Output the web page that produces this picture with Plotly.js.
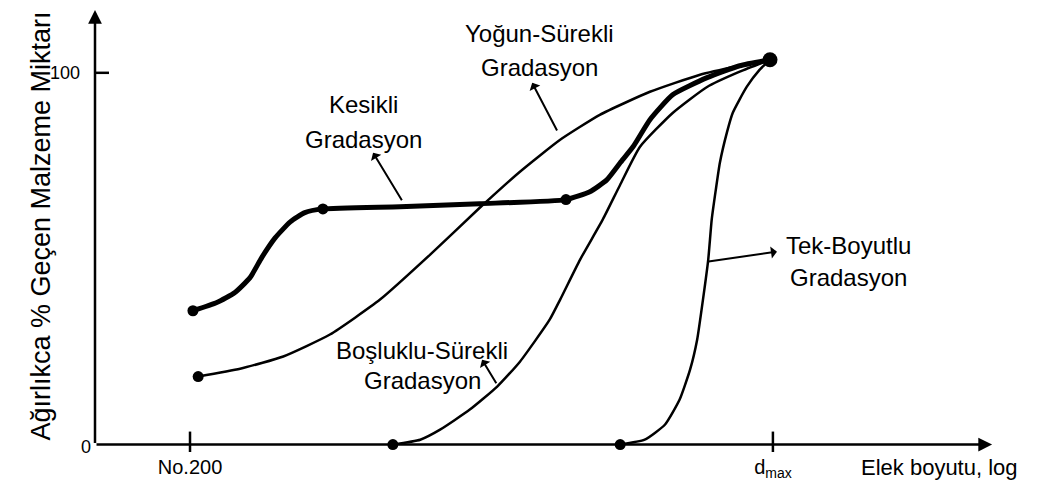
<!DOCTYPE html>
<html>
<head>
<meta charset="utf-8">
<script src="https://cdn.plot.ly/plotly-3.0.1.min.js"></script>
<style>html,body{margin:0;padding:0;background:#fff;}#chart{width:1046px;height:504px;}</style>
</head>
<body>
<div id="chart"></div>
<script>
// x: relative log sieve size (No.200 = 0, d_max = 100); y: % passing by weight
const xTickVals = [0, 100];
const xTickText = ['No.200', 'd<sub>max</sub>'];
const yTickVals = [100];
const yTickText = ['100'];

const xKesikli = [0.5, 4.6, 7.7, 10.3, 12.3, 14.6, 17.2, 19.7, 22.8, 36.0, 49.7, 64.5, 68.6, 71.5, 73.8, 76.0, 78.9, 82.8, 88.7, 94.3, 99.5];
const yKesikli = [36.0, 38.2, 40.9, 44.9, 50.3, 55.6, 59.9, 62.4, 63.4, 64.0, 64.8, 65.9, 68.0, 71.2, 75.8, 80.1, 87.4, 94.1, 98.7, 101.9, 103.5];
const dotsKesikli = [0, 8, 11];

const xYogun = [1.4, 8.6, 16.0, 24.0, 32.6, 41.2, 49.7, 56.6, 63.5, 70.3, 78.9, 87.5, 94.3, 99.5];
const yYogun = [18.3, 20.4, 23.7, 29.6, 39.0, 51.1, 63.7, 73.4, 82.0, 88.7, 94.9, 99.5, 101.9, 103.5];

const xBosluklu = [34.8, 39.5, 42.9, 48.0, 52.7, 56.6, 61.7, 63.5, 66.9, 70.8, 73.8, 77.2, 82.8, 88.7, 94.3, 99.5];
const yBosluklu = [0.0, 1.3, 4.0, 9.4, 15.6, 22.3, 33.6, 39.0, 49.7, 60.5, 69.9, 80.1, 89.2, 96.2, 100.3, 103.5];

const xTek = [73.8, 78.0, 81.5, 84.0, 85.8, 87.0, 88.0, 88.9, 89.5, 90.2, 90.9, 92.1, 93.1, 95.5, 97.7, 99.5];
const yTek = [0.0, 1.3, 5.4, 12.1, 20.2, 28.2, 39.0, 49.7, 60.5, 68.5, 75.8, 83.9, 89.2, 96.2, 100.8, 103.5];

const labelTop = ['Yoğun-Sürekli', 'Kesikli', 'Boşluklu-Sürekli', 'Tek-Boyutlu'];
const labelBottom = ['Gradasyon', 'Gradasyon', 'Gradasyon', 'Gradasyon'];
const yTitle = 'Ağırlıkca % Geçen Malzeme Miktarı';
const xTitle = 'Elek boyutu, log';
const yZeroLabel = '0';

const FONT = 'Liberation Sans, Arial, sans-serif';
const XMIN = -16.3, XMAX = 138.1, YMIN = -2, YMAX = 116.9;

function line(x, y, w) {
  return {x: x, y: y, type: 'scatter', mode: 'lines', line: {color: '#000', width: w, shape: 'spline', smoothing: 0.5}, hoverinfo: 'skip'};
}
const dotX = dotsKesikli.map(i => xKesikli[i]).concat([xYogun[0], xBosluklu[0], xTek[0]]);
const dotY = dotsKesikli.map(i => yKesikli[i]).concat([yYogun[0], yBosluklu[0], yTek[0]]);
const endX = [xKesikli[xKesikli.length - 1]];
const endY = [yKesikli[yKesikli.length - 1]];

const data = [
  line(xYogun, yYogun, 2.5),
  line(xBosluklu, yBosluklu, 2.5),
  line(xTek, yTek, 2.5),
  line(xKesikli, yKesikli, 5),
  {x: dotX, y: dotY, type: 'scatter', mode: 'markers', marker: {color: '#000', size: 11}, cliponaxis: false, hoverinfo: 'skip'},
  {x: endX, y: endY, type: 'scatter', mode: 'markers', marker: {color: '#000', size: 15}, cliponaxis: false, hoverinfo: 'skip'}
];

const tf = {family: FONT, size: 24, color: '#000'};
// label anchor positions (centre of each text line)
const labelX = [60.0, 29.7, 39.8, 112.9];
const labelTopY = [110.6, 91.6, 25.3, 53.6];
const labelBottomY = [101.4, 82.0, 17.3, 45.0];

const annotations = [
  // axes with arrows
  {x: XMAX - 0.5, y: 0, ax: XMIN, ay: 0, xref: 'x', yref: 'y', axref: 'x', ayref: 'y', text: '', showarrow: true, arrowhead: 2, arrowsize: 1.1, arrowwidth: 2.5, arrowcolor: '#000'},
  {x: XMIN, y: YMAX, ax: XMIN, ay: 0, xref: 'x', yref: 'y', axref: 'x', ayref: 'y', text: '', showarrow: true, arrowhead: 2, arrowsize: 1.1, arrowwidth: 2.5, arrowcolor: '#000'},
  // pointers
  {x: 58.7, y: 97.3, ax: 63.1, ay: 84.1, xref: 'x', yref: 'y', axref: 'x', ayref: 'y', text: '', showarrow: true, arrowhead: 1, arrowsize: 1, arrowwidth: 2, arrowcolor: '#000'},
  {x: 31.4, y: 78.5, ax: 36.5, ay: 65.3, xref: 'x', yref: 'y', axref: 'x', ayref: 'y', text: '', showarrow: true, arrowhead: 1, arrowsize: 1, arrowwidth: 2, arrowcolor: '#000'},
  {x: 50.1, y: 22.8, ax: 52.7, ay: 16.1, xref: 'x', yref: 'y', axref: 'x', ayref: 'y', text: '', showarrow: true, arrowhead: 1, arrowsize: 1, arrowwidth: 2, arrowcolor: '#000'},
  {x: 100.7, y: 51.9, ax: 88.7, ay: 49.2, xref: 'x', yref: 'y', axref: 'x', ayref: 'y', text: '', showarrow: true, arrowhead: 1, arrowsize: 1, arrowwidth: 2, arrowcolor: '#000'},
  // axis titles and y=0 label
  {x: 0.938, y: -0.034, xref: 'paper', yref: 'paper', text: xTitle, showarrow: false, xanchor: 'center', yanchor: 'middle', font: {family: FONT, size: 22, color: '#000'}},
  {x: -0.06, y: 0.51, xref: 'paper', yref: 'paper', text: yTitle, textangle: -90, showarrow: false, xanchor: 'center', yanchor: 'middle', font: {family: FONT, size: 27, color: '#000'}},
  {x: 0, y: 0, xref: 'paper', yref: 'y', text: yZeroLabel, showarrow: false, xanchor: 'right', xshift: -2, yshift: -2, font: {family: FONT, size: 18, color: '#000'}}
];
labelTop.forEach((t, i) => {
  annotations.push({x: labelX[i], y: labelTopY[i], xref: 'x', yref: 'y', text: t, showarrow: false, font: tf});
  annotations.push({x: labelX[i], y: labelBottomY[i], xref: 'x', yref: 'y', text: labelBottom[i], showarrow: false, font: tf});
});

const shapes = xTickVals.map(v => ({type: 'line', xref: 'x', yref: 'y', ysizemode: 'pixel', yanchor: 0, x0: v, x1: v, y0: -13, y1: 13, line: {color: '#000', width: 2.5}}))
  .concat(yTickVals.map(v => ({type: 'line', xref: 'x', yref: 'y', xsizemode: 'pixel', xanchor: XMIN, y0: v, y1: v, x0: -13, x1: 14, line: {color: '#000', width: 2.5}})));

const layout = {
  width: 1046, height: 504,
  margin: {l: 95, r: 51, t: 10, b: 52},
  paper_bgcolor: '#fff', plot_bgcolor: '#fff',
  showlegend: false,
  font: {family: FONT, color: '#000'},
  xaxis: {range: [XMIN, XMAX], showgrid: false, zeroline: false, showline: false, ticks: '',
          tickvals: xTickVals, ticktext: xTickText, tickfont: {family: FONT, size: 20, color: '#000'}, ticklabelstandoff: 1},
  yaxis: {range: [YMIN, YMAX], showgrid: false, zeroline: false, showline: false, ticks: '',
          tickvals: yTickVals, ticktext: yTickText, tickfont: {family: FONT, size: 18, color: '#000'}, ticklabelstandoff: 14},
  annotations: annotations,
  shapes: shapes
};

Plotly.newPlot('chart', data, layout, {displayModeBar: false, staticPlot: true});
</script>
</body>
</html>
